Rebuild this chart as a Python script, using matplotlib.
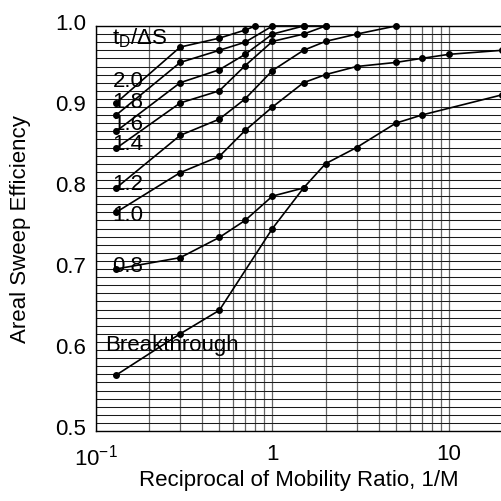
import numpy as np
import matplotlib
matplotlib.use('Agg')
import matplotlib.pyplot as plt
from matplotlib.ticker import FixedLocator, LogLocator, NullFormatter, MultipleLocator
import matplotlib.transforms as mtransforms

plt.rcParams['font.family'] = ['Liberation Sans', 'DejaVu Sans']
plt.rcParams['mathtext.fontset'] = 'custom'
plt.rcParams['mathtext.rm'] = 'Liberation Sans'
plt.rcParams['mathtext.default'] = 'regular'

# curves: 1/M values and areal sweep efficiency, one per tD/dS
x_20 = [0.13, 0.3, 0.5, 0.7, 0.8]
y_20 = [0.905, 0.974, 0.985, 0.995, 1.0]
x_18 = [0.13, 0.3, 0.5, 0.7, 1.0, 1.5]
y_18 = [0.890, 0.955, 0.970, 0.980, 1.0, 1.0]
x_16 = [0.13, 0.3, 0.5, 0.7, 1.0, 1.5, 2.0]
y_16 = [0.870, 0.930, 0.946, 0.965, 0.990, 1.0, 1.0]
x_14 = [0.13, 0.3, 0.5, 0.7, 1.0, 1.5, 2.0]
y_14 = [0.849, 0.905, 0.920, 0.951, 0.981, 0.990, 1.0]
x_12 = [0.13, 0.3, 0.5, 0.7, 1.0, 1.5, 2.0, 3.0, 5.0]
y_12 = [0.800, 0.865, 0.885, 0.910, 0.945, 0.970, 0.981, 0.990, 1.0]
x_10 = [0.13, 0.3, 0.5, 0.7, 1.0, 1.5, 2.0, 3.0, 5.0, 7.0, 10.0, 20.0]
y_10 = [0.770, 0.819, 0.839, 0.871, 0.900, 0.930, 0.940, 0.950, 0.955, 0.960, 0.965, 0.970]
x_08 = [0.13, 0.3, 0.5, 0.7, 1.0, 1.5]
y_08 = [0.700, 0.714, 0.739, 0.760, 0.790, 0.800]
x_bt = [0.13, 0.3, 0.5, 1.0, 1.5, 2.0, 3.0, 5.0, 7.0, 20.0]
y_bt = [0.569, 0.620, 0.649, 0.750, 0.800, 0.830, 0.850, 0.880, 0.890, 0.915]

curves = [(x_20, y_20), (x_18, y_18), (x_16, y_16), (x_14, y_14),
          (x_12, y_12), (x_10, y_10), (x_08, y_08), (x_bt, y_bt)]

# curve labels (text, y baseline)
labels = ['2.0', '1.8', '1.6', '1.4', '1.2', '1.0', '0.8', 'Breakthrough']
label_y = [0.926, 0.900, 0.873, 0.848, 0.799, 0.760, 0.698, 0.600]
label_x = [0.124, 0.124, 0.124, 0.124, 0.124, 0.124, 0.124, 0.113]

FS = 16

fig = plt.figure(figsize=(5.02, 5.02), dpi=100)
ax = fig.add_axes([96 / 502, 1 - 432 / 502, 406 / 502, 405 / 502])
ax.set_xscale('log')
ax.set_xlim(0.1, 20)
ax.set_ylim(0.5, 1.0)

# graph paper grid
ax.yaxis.set_major_locator(FixedLocator([0.5, 0.6, 0.7, 0.8, 0.9, 1.0]))
ax.yaxis.set_minor_locator(MultipleLocator(0.01))
ax.xaxis.set_major_locator(FixedLocator([0.1, 1, 10]))
ax.xaxis.set_minor_locator(LogLocator(base=10, subs=np.arange(2, 10)))
ax.xaxis.set_minor_formatter(NullFormatter())
ax.grid(True, which='both', axis='y', color='#1a1a1a', lw=0.75)
ax.grid(True, which='both', axis='x', color='#666666', lw=0.9)
ax.set_axisbelow(True)

ax.set_xticklabels([r'$10^{-1}$', '1', '10'])
ax.set_yticklabels(['0.5', '0.6', '0.7', '0.8', '0.9', '1.0'])
ax.tick_params(which='both', length=0)
ax.tick_params(axis='x', pad=9, labelsize=FS)
ax.tick_params(axis='y', pad=7, labelsize=FS)
offset = mtransforms.ScaledTranslation(0, 5 / 100, fig.dpi_scale_trans)
for lab in ax.get_yticklabels():
    lab.set_transform(lab.get_transform() + offset)

for xs, ys in curves:
    ax.plot(xs, ys, color='black', lw=1.2, marker='o', ms=4, clip_on=False, zorder=3)

for txt, tx, ty in zip(labels, label_x, label_y):
    ax.text(tx, ty, txt, fontsize=FS, ha='left', va='baseline', zorder=4)
ax.text(0.124, 0.978, r'$t_D$/ΔS', fontsize=FS, ha='left', va='baseline', zorder=4)

ax.set_xlabel('Reciprocal of Mobility Ratio, 1/M', fontsize=FS)
ax.set_ylabel('Areal Sweep Efficiency', fontsize=FS)
ax.xaxis.set_label_coords(0.5, -0.095)
ax.yaxis.set_label_coords(-0.16, 0.5)

for s in ax.spines.values():
    s.set_color('black')
    s.set_linewidth(1.0)

fig.savefig('out.png', dpi=100)
